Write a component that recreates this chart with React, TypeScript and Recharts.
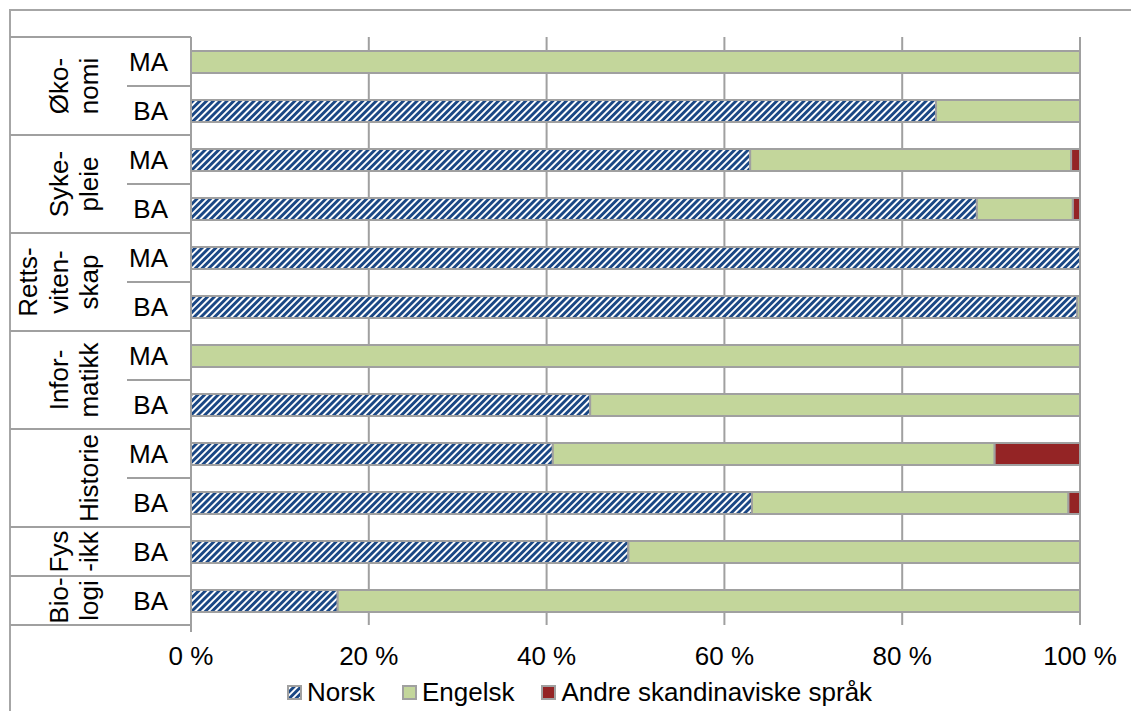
import React from "react";
import { BarChart, Bar, XAxis, YAxis, CartesianGrid, Legend } from "recharts";

// hierarchical category axis: subject groups and study levels (top to bottom)
const groupLabels = [
  ["Øko-", "nomi"],
  ["Syke-", "pleie"],
  ["Retts-", "viten-", "skap"],
  ["Infor-", "matikk"],
  ["Historie"],
  ["Fys", "-ikk"],
  ["Bio-", "logi"],
];
const rowGroup = [0, 0, 1, 1, 2, 2, 3, 3, 4, 4, 5, 6];
const rowLevel = ["MA", "BA", "MA", "BA", "MA", "BA", "MA", "BA", "MA", "BA", "BA", "BA"];

// share of theses by language (%)
const norsk = [0, 83.8, 62.9, 88.4, 100, 99.7, 0, 44.9, 40.7, 63.1, 49.2, 16.5];
const engelsk = [100, 16.2, 36.1, 10.8, 0, 0.3, 100, 55.1, 49.7, 35.6, 50.8, 83.5];
const andre = [0, 0, 1.0, 0.8, 0, 0, 0, 0, 9.6, 1.3, 0, 0];

const xTicks = [0, 20, 40, 60, 80, 100];

const series = [
  { key: "norsk", name: "Norsk", fill: "url(#norskHatch)" },
  { key: "engelsk", name: "Engelsk", fill: "#c3d69b" },
  { key: "andre", name: "Andre skandinaviske språk", fill: "#942425" },
];

const data = rowLevel.map((level, i) => ({
  id: `r${i}`,
  level,
  norsk: norsk[i],
  engelsk: engelsk[i],
  andre: andre[i],
}));

const GRID = "#a0a0a0";
const FONT = "'Liberation Sans', Arial, sans-serif";
const Y_WIDTH = 181;

const HatchDef = ({ id }: { id: string }) => (
  <pattern id={id} patternUnits="userSpaceOnUse" width={4.8} height={4.8} patternTransform="rotate(45)">
    <rect width={4.8} height={4.8} fill="#ffffff" />
    <rect width={2.9} height={4.8} fill="#1a4784" />
  </pattern>
);

const CategoryTick = (props: any) => {
  const { x, y, payload } = props;
  const i = payload.index ?? props.index;
  const half = payload.offset || 24.5;
  const g = rowGroup[i];
  const first = i === 0 || rowGroup[i - 1] !== g;
  const last = i === rowGroup.length - 1 || rowGroup[i + 1] !== g;
  const n = rowGroup.filter((v) => v === g).length;
  const outer = x - Y_WIDTH;
  const lines = groupLabels[g];
  const cy = y + (n - 1) * half;
  return (
    <g>
      {i === 0 && <line x1={outer} x2={x} y1={y - half} y2={y - half} stroke={GRID} strokeWidth={2} />}
      <line x1={last ? outer : x - 64} x2={x} y1={y + half} y2={y + half} stroke={GRID} strokeWidth={2} />
      {i === rowGroup.length - 1 && (
        <line x1={x} x2={x} y1={y + half} y2={y + half + 7} stroke={GRID} strokeWidth={2} />
      )}
      <text x={x - 23} y={y} textAnchor="end" dominantBaseline="central" fontSize={26} fontFamily={FONT} fill="#000">
        {rowLevel[i]}
      </text>
      {first &&
        lines.map((t, k) => {
          const cx = x - 102 - 30.5 * (lines.length - 1 - k);
          return (
            <text
              key={k}
              x={cx}
              y={cy}
              transform={`rotate(-90 ${cx} ${cy})`}
              textAnchor="middle"
              dominantBaseline="central"
              fontSize={26}
              fontFamily={FONT}
              fill="#000"
            >
              {t}
            </text>
          );
        })}
    </g>
  );
};

const LegendContent = () => (
  <div
    style={{
      height: 40,
      boxSizing: "border-box",
      paddingTop: 3,
      paddingLeft: 277,
      display: "flex",
      alignItems: "center",
      fontFamily: FONT,
      fontSize: 26,
      color: "#000",
    }}
  >
    {series.map((s) => (
      <div key={s.key} style={{ display: "flex", alignItems: "center", marginRight: 27 }}>
        <svg width={15} height={15} style={{ marginRight: 5, display: "block" }}>
          <defs>
            <HatchDef id="legendHatch" />
          </defs>
          <rect
            x={1}
            y={1}
            width={13}
            height={13}
            fill={s.key === "norsk" ? "url(#legendHatch)" : s.fill}
            stroke={GRID}
            strokeWidth={2}
          />
        </svg>
        <span>{s.name}</span>
      </div>
    ))}
  </div>
);

export default function App() {
  return (
    <div style={{ position: "absolute", top: 0, left: 0, width: 1131, height: 711, overflow: "hidden", background: "#fff" }}>
      <div
        style={{
          position: "absolute",
          left: 9,
          top: 9,
          width: 1300,
          height: 900,
          border: "2px solid #a6a6a6",
        }}
      />
      <div style={{ position: "absolute", top: 0, left: 0 }}>
        <BarChart
          width={1131}
          height={711}
          data={data}
          layout="vertical"
          margin={{ top: 37, right: 51, left: 10, bottom: 0 }}
        >
          <defs>
            <HatchDef id="norskHatch" />
          </defs>
          <CartesianGrid horizontal={false} stroke={GRID} strokeWidth={2} />
          <XAxis
            type="number"
            domain={[0, 100]}
            ticks={xTicks}
            interval={0}
            tickFormatter={(v: number) => `${v} %`}
            axisLine={false}
            tickLine={false}
            tickMargin={16}
            height={46}
            tick={{ fill: "#000", fontSize: 26, fontFamily: FONT }}
          />
          <YAxis
            type="category"
            dataKey="id"
            width={Y_WIDTH}
            interval={0}
            tickSize={0}
            tickMargin={0}
            tickLine={false}
            axisLine={{ stroke: GRID, strokeWidth: 2 }}
            tick={(p: any) => <CategoryTick {...p} />}
          />
          <Legend verticalAlign="bottom" height={40} content={() => <LegendContent />} />
          {series.map((s) => (
            <Bar
              key={s.key}
              dataKey={s.key}
              name={s.name}
              stackId="lang"
              fill={s.fill}
              stroke={GRID}
              strokeWidth={2}
              barSize={22}
              isAnimationActive={false}
            />
          ))}
        </BarChart>
      </div>
    </div>
  );
}
